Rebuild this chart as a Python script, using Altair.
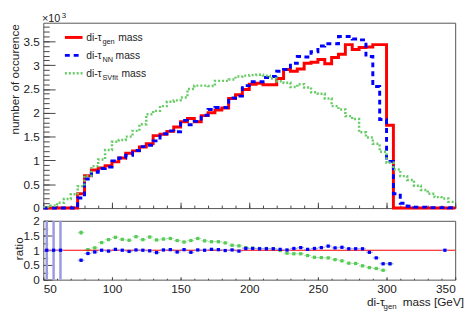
import altair as alt
import pandas as pd

# ---------------- data ----------------
bin_lo = list(range(50, 350, 5))  # 60 bins of 5 GeV, 50..350

# counts in units of 10^3
gen = [0.001, 0.001, 0.001, 0.0, 0.0, 0.30, 0.68, 0.80, 0.84, 0.89,
       0.97, 1.05, 1.15, 1.20, 1.28, 1.35, 1.52, 1.55, 1.61, 1.70,
       1.81, 1.88, 1.81, 1.94, 2.00, 2.06, 2.10, 2.30, 2.38, 2.49,
       2.60, 2.62, 2.59, 2.59, 2.72, 2.91, 2.87, 2.92, 3.04, 3.06,
       3.12, 3.03, 3.16, 3.23, 3.43, 3.33, 3.37, 3.38, 3.43, 3.43,
       1.74, 0.0, 0.0, 0.0, 0.0, 0.0, 0.0, 0.0, 0.001, 0.0]

nn = [0.001, 0.001, 0.001, 0.0, 0.0, 0.21, 0.61, 0.75, 0.83, 0.86,
      0.99, 1.05, 1.11, 1.21, 1.29, 1.32, 1.41, 1.56, 1.62, 1.60,
      1.84, 1.75, 1.82, 1.95, 2.07, 2.11, 2.11, 2.31, 2.35, 2.57,
      2.65, 2.65, 2.74, 2.76, 2.87, 2.91, 3.04, 3.18, 3.17, 3.28,
      3.40, 3.45, 3.45, 3.60, 3.60, 3.55, 3.53, 3.18, 2.55, 1.86,
      0.98, 0.30, 0.10, 0.04, 0.02, 0.02, 0.01, 0.01, 0.01, 0.005]

svfit = [0.02, 0.05, 0.11, 0.19, 0.29, 0.46, 0.68, 0.88, 1.02, 1.22,
         1.39, 1.43, 1.50, 1.62, 1.76, 1.97, 2.04, 2.14, 2.23, 2.26,
         2.32, 2.50, 2.57, 2.57, 2.56, 2.67, 2.67, 2.70, 2.76, 2.78,
         2.79, 2.80, 2.78, 2.72, 2.66, 2.63, 2.54, 2.60, 2.53, 2.43,
         2.40, 2.30, 2.14, 2.07, 1.93, 1.87, 1.59, 1.48, 1.35, 1.18,
         0.95, 0.81, 0.67, 0.59, 0.47, 0.38, 0.30, 0.23, 0.20, 0.13]

N = None
ratio_nn = [1.0, 1.0, 1.0, N, N, 0.66, 0.89, 0.94, 1.00, 0.97,
            1.03, 1.00, 0.96, 1.01, 1.00, 0.98, 0.92, 1.01, 1.02, 0.94,
            1.02, 0.93, 1.01, 1.00, 1.03, 1.02, 0.99, 1.01, 0.97, 1.06,
            1.06, 1.05, 1.05, 1.05, 1.03, 1.01, 1.06, 1.09, 1.03, 1.06,
            1.09, 1.14, 1.08, 1.10, 1.05, 1.05, 1.05, 0.93, 0.74, 0.54,
            0.54, N, N, N, N, N, N, N, 1.0, N]
ratio_nn_err = [1.0, 1.0, 1.0, N, N, 0.05, 0.04, 0.03, 0.03, 0.03,
                0.03, 0.03, 0.03, 0.03, 0.03, 0.03, 0.03, 0.03, 0.03, 0.03,
                0.03, 0.03, 0.03, 0.03, 0.03, 0.03, 0.03, 0.03, 0.03, 0.03,
                0.03, 0.03, 0.03, 0.03, 0.03, 0.03, 0.03, 0.03, 0.03, 0.03,
                0.03, 0.03, 0.03, 0.03, 0.03, 0.03, 0.03, 0.03, 0.03, 0.03,
                0.04, N, N, N, N, N, N, N, 0.0, N]

ratio_sv = [N, N, N, N, N, 1.60, 1.02, 1.08, 1.26, 1.36,
            1.44, 1.37, 1.34, 1.46, 1.36, 1.45, 1.35, 1.38, 1.40, 1.33,
            1.28, 1.33, 1.40, 1.32, 1.29, 1.29, 1.25, 1.17, 1.15, 1.09,
            1.07, 1.06, 1.06, 1.05, 0.99, 0.90, 0.88, 0.88, 0.82, 0.76,
            0.75, 0.74, 0.68, 0.64, 0.56, 0.55, 0.47, 0.41, 0.38, 0.32,
            0.54, N, N, N, N, N, N, N, N, N]
ratio_sv_err = [N, N, N, N, N, 0.07, 0.05, 0.04, 0.04, 0.04,
                0.04, 0.04, 0.04, 0.04, 0.04, 0.04, 0.04, 0.04, 0.04, 0.04,
                0.03, 0.03, 0.03, 0.03, 0.03, 0.03, 0.03, 0.03, 0.03, 0.03,
                0.03, 0.03, 0.03, 0.03, 0.03, 0.03, 0.03, 0.03, 0.03, 0.03,
                0.03, 0.03, 0.03, 0.03, 0.03, 0.03, 0.03, 0.03, 0.03, 0.03,
                0.04, N, N, N, N, N, N, N, N, N]

x_major = [50, 100, 150, 200, 250, 300, 350]
x_minor = list(range(50, 351, 10))
y1_major = [0, 0.5, 1, 1.5, 2, 2.5, 3, 3.5]
y1_minor = [round(0.1 * k, 1) for k in range(39)]
y2_major = [0, 0.5, 1, 1.5, 2]
y2_minor = [0, 0.25, 0.5, 0.75, 1, 1.25, 1.5, 1.75, 2]

# ---------------- helpers ----------------
FONT = "Liberation Sans"
TXT = "#222222"
TICK = "#444444"
W, H1, H2 = 420, 189, 60

RED, BLUE, GREEN = "#ff0000", "#0000ff", "#66cc66"


def steps(vals):
    return pd.DataFrame({"m": bin_lo + [350], "v": vals + [vals[-1]]})


def ratio_df(r, e):
    rows = []
    for lo, rv, ev in zip(bin_lo, r, e):
        if rv is None:
            continue
        rows.append({"lo": lo, "hi": lo + 5, "c": lo + 2.5, "r": rv,
                     "rlo": rv - ev, "rhi": rv + ev})
    return pd.DataFrame(rows)


xs = alt.Scale(domain=[50, 350], nice=False, zero=False)
ys1 = alt.Scale(domain=[0, 3.89], nice=False, zero=False)
ys2 = alt.Scale(domain=[0, 2], nice=False, zero=False, clamp=True)

common = dict(domain=False, grid=False, tickColor=TICK, tickWidth=1,
              labelFont=FONT, labelFontSize=12, labelColor=TXT)


def axis(orient, values, size, labels=True, **kw):
    return alt.Axis(orient=orient, values=values, tickSize=size, offset=-size,
                    labels=labels, **common, **kw)


dummy = pd.DataFrame({"d": [0]})


def txt(text, x, y, size, align="left"):
    return alt.Chart(dummy).mark_text(
        text=text, align=align, baseline="alphabetic", font=FONT,
        fontSize=size, color=TXT).encode(x=alt.value(x), y=alt.value(y))


def legrule(y, color, dash=None, width=3):
    kw = dict(color=color, strokeWidth=width)
    if dash:
        kw["strokeDash"] = dash
    return alt.Chart(dummy).mark_rule(**kw).encode(
        x=alt.value(22), x2=alt.value(40), y=alt.value(y))


# ---------------- top panel ----------------
red = alt.Chart(steps(gen)).mark_line(
    interpolate="step-after", color=RED, strokeWidth=3).encode(
    x=alt.X("m:Q", scale=xs,
            axis=axis("bottom", x_major, 6, labels=False, title=None)),
    y=alt.Y("v:Q", scale=ys1,
            axis=axis("left", y1_major, 12, format="~g", labelPadding=4,
                      title="number of occurence", titleX=-41, titleY=1,
                      titleAngle=270, titleAlign="right",
                      titleBaseline="middle", titleFont=FONT,
                      titleFontSize=12, titleFontWeight="normal",
                      titleColor=TXT)))

blue = alt.Chart(steps(nn)).mark_line(
    interpolate="step-after", color=BLUE, strokeWidth=3,
    strokeDash=[5, 4]).encode(
    x=alt.X("m:Q", scale=xs,
            axis=axis("bottom", x_minor, 3, labels=False, title=None)),
    y=alt.Y("v:Q", scale=ys1,
            axis=axis("left", y1_minor, 6, labels=False, title=None)))

green = alt.Chart(steps(svfit)).mark_line(
    interpolate="step-after", color=GREEN, strokeWidth=2.5,
    strokeDash=[2, 2]).encode(
    x=alt.X("m:Q", scale=xs, axis=None),
    y=alt.Y("v:Q", scale=ys1, axis=None))

legend = [
    legrule(15, RED), txt("di-τ", 43.7, 19, 10.5), txt("gen", 60.3, 21.5, 7.5),
    txt("mass", 76.3, 19, 10.5),
    legrule(33.3, BLUE, [5, 4]), txt("di-τ", 43.7, 37.3, 10.5),
    txt("NN", 60.3, 39.8, 7.5), txt("mass", 73.7, 37.3, 10.5),
    legrule(51.6, GREEN, [2, 2], 2.5), txt("di-τ", 43.7, 55.6, 10.5),
    txt("SVfit", 60.3, 58.1, 7.5), txt("mass", 79.7, 55.6, 10.5),
    txt("×10", -1.3, -1, 11), txt("3", 18.7, -5, 8),
]

top = alt.layer(red, blue, green, *legend).resolve_axis(
    x="independent", y="independent").properties(width=W, height=H1)

# ---------------- ratio panel ----------------
dnn = ratio_df(ratio_nn, ratio_nn_err)
dsv = ratio_df(ratio_sv, ratio_sv_err)

unity = alt.Chart(dummy).mark_rule(color=RED, strokeWidth=1.2).encode(
    y=alt.Y(datum=1, scale=ys2, axis=None))


def ratio_layers(d, bar_color, pt_color, first):
    xa = axis("bottom", x_major, 3, labelPadding=4, title=None,
              format="d") if first else axis("bottom", x_minor, 1.5,
                                             labels=False, title=None)
    ya = axis("left", y2_major, 9, format="~g", labelPadding=4,
              title="ratio", titleX=-34, titleY=28, titleAngle=270,
              titleAlign="center", titleBaseline="middle", titleFont=FONT,
              titleFontSize=12, titleFontWeight="normal",
              titleColor=TXT) if first else axis("left", y2_minor, 4.5,
                                                 labels=False, title=None)
    hbar = alt.Chart(d).mark_rule(color=bar_color, strokeWidth=1).encode(
        x=alt.X("lo:Q", scale=xs, axis=xa), x2="hi:Q",
        y=alt.Y("r:Q", scale=ys2, axis=ya))
    vbar = alt.Chart(d).mark_rule(color=bar_color, strokeWidth=2.5).encode(
        x=alt.X("c:Q", scale=xs, axis=None),
        y=alt.Y("rlo:Q", scale=ys2, axis=None), y2="rhi:Q")
    pts = alt.Chart(d).mark_square(color=pt_color, size=11, opacity=1).encode(
        x=alt.X("c:Q", scale=xs, axis=None),
        y=alt.Y("r:Q", scale=ys2, axis=None))
    return [hbar, vbar, pts]


TB = H2 + 27
TE = W + 9  # right end of the x-axis title
xtitle = [txt("di-τ", TE - 99, TB, 12), txt("gen", TE - 82, TB + 2.5, 8),
          txt("mass [GeV]", TE, TB, 12, align="right")]

bottom = alt.layer(
    *ratio_layers(dsv, "#a8dca8", "#55cc55", False),
    unity,
    *ratio_layers(dnn, "#9a9ae0", "#0000ff", True),
    *xtitle,
).resolve_axis(x="independent", y="independent").properties(width=W, height=H2)

chart = alt.vconcat(top, bottom, spacing=13, bounds="flush").properties(
    padding={"left": 0, "top": 0, "right": 0, "bottom": 0}
).configure_view(stroke="#555555", strokeWidth=1)

chart.save("out.html", embed_options={"renderer": "svg", "actions": False})
